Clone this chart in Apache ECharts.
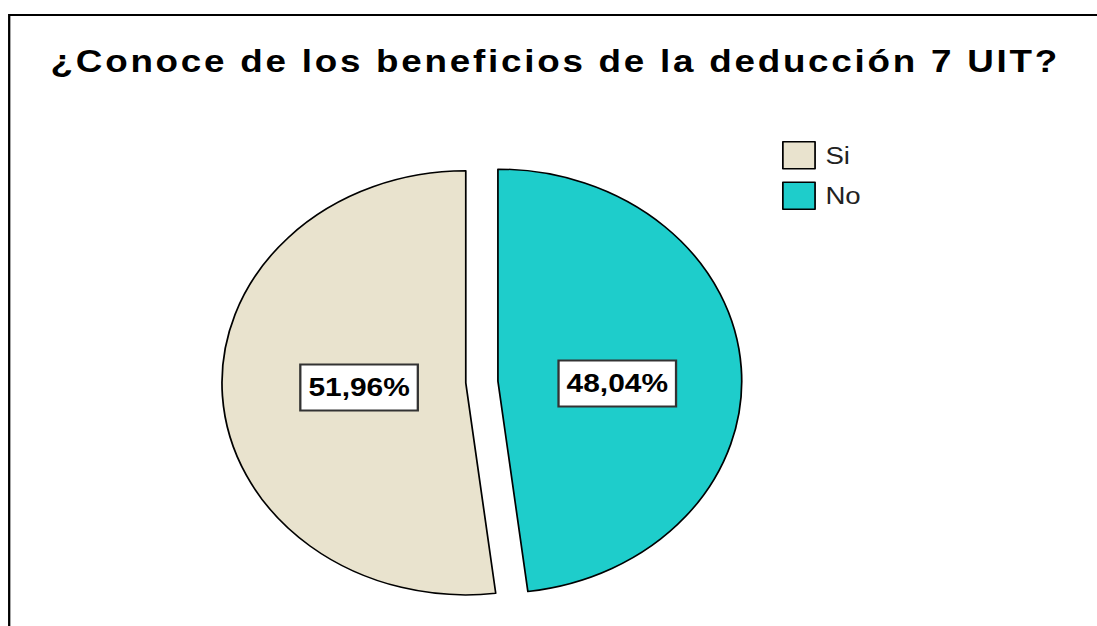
<!DOCTYPE html>
<html>
<head>
<meta charset="utf-8">
<title>¿Conoce de los beneficios de la deducción 7 UIT?</title>
<script src="https://cdn.jsdelivr.net/npm/echarts@6/dist/echarts.min.js"></script>
<style>
  html, body { margin: 0; padding: 0; background: #fff; overflow: hidden; }
  /* the original picture is stretched sideways, so the whole chart is too */
  #chart {
    width: 954px;
    height: 626px;
    transform: scaleX(1.15);
    transform-origin: 0 0;
  }
</style>
</head>
<body>
<div id="chart"></div>
<script>
const titleText = '¿Conoce de los beneficios de la deducción 7 UIT?'
const categories = ['Si', 'No']
const percents = [51.96, 48.04]
const colors = ['#E9E3CE', '#1ECDCB']

const chart = echarts.init(document.getElementById('chart'), null, { renderer: 'svg' })

// SPSS puts the boxes a bit off the mid radius
const labelShift = [[16, -2], [-5, 9]]

const option = {
  animation: false,
  color: colors,
  title: {
    text: titleText,
    left: 44,
    top: 45,
    padding: 0,
    textStyle: {
      fontFamily: 'Liberation Sans',
      fontWeight: 'bold',
      fontSize: 32,
      color: '#000',
    },
  },
  legend: {
    orient: 'vertical',
    left: 680,
    top: 141,
    padding: 0,
    itemWidth: 28,
    itemHeight: 27,
    itemGap: 12,
    selectedMode: false,
    icon: 'rect',
    data: categories,
    itemStyle: {
      borderColor: '#000',
      borderWidth: 1.5,
    },
    textStyle: {
      fontFamily: 'Liberation Sans',
      fontSize: 24,
      color: '#222',
      padding: [0, 0, 0, 4],
    },
  },
  graphic: [{
    type: 'polyline',
    silent: true,
    shape: { points: [[8, 640], [8, 15], [960, 15]] },
    style: { stroke: '#000', lineWidth: 2, fill: null },
  }],
  series: [{
    type: 'pie',
    center: [419, 382],
    radius: 212,
    startAngle: 90,
    clockwise: false,
    selectedMode: 'multiple',
    selectedOffset: 14,
    emphasis: { disabled: true },
    itemStyle: {
      borderColor: '#000',
      borderWidth: 1.5,
    },
    label: {
      show: true,
      position: 'inside',
      formatter: p => p.value.toFixed(2).replace('.', ',') + '%',
      fontFamily: 'Liberation Sans',
      fontWeight: 'bold',
      fontSize: 26,
      lineHeight: 28,
      color: '#000',
      backgroundColor: '#fff',
      borderColor: '#333',
      borderWidth: 2,
      padding: [8, 6],
    },
    labelLayout: p => ({ dx: labelShift[p.dataIndex][0], dy: labelShift[p.dataIndex][1] }),
    labelLine: { show: false },
    data: categories.map((name, i) => ({ name, value: percents[i], selected: true })),
  }],
}

chart.setOption(option)

// the title in the picture is set with wide letter spacing
function spaceTitle() {
  document.querySelectorAll('#chart svg text').forEach(t => {
    if (t.textContent === titleText) t.setAttribute('letter-spacing', '2.4')
  })
}
spaceTitle()
chart.on('rendered', spaceTitle)
</script>
</body>
</html>
